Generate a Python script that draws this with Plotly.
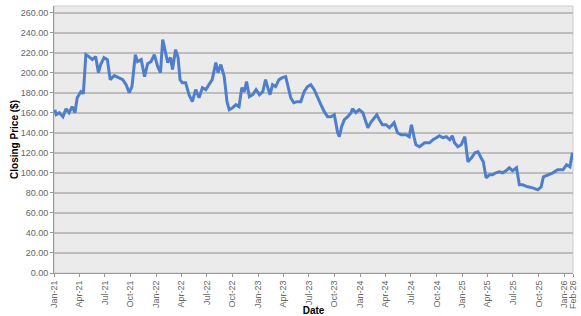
import plotly.graph_objects as go

dates = [
    "2021-01-04", "2021-01-09", "2021-01-20", "2021-02-02", "2021-02-13", "2021-02-24",
    "2021-03-07", "2021-03-17", "2021-03-25", "2021-04-07", "2021-04-16", "2021-04-25",
    "2021-05-06", "2021-05-18", "2021-05-30", "2021-06-09", "2021-06-17", "2021-06-29",
    "2021-07-11", "2021-07-21", "2021-08-05", "2021-08-23", "2021-09-04", "2021-09-16",
    "2021-09-27", "2021-10-07", "2021-10-19", "2021-10-27", "2021-11-09", "2021-11-21",
    "2021-12-02", "2021-12-14", "2021-12-26", "2022-01-07", "2022-01-17", "2022-01-25",
    "2022-02-03", "2022-02-12", "2022-02-22", "2022-03-01", "2022-03-12", "2022-03-21",
    "2022-03-28", "2022-04-05", "2022-04-17", "2022-04-29", "2022-05-11", "2022-05-23",
    "2022-06-04", "2022-06-16", "2022-06-28", "2022-07-10", "2022-07-21", "2022-08-03",
    "2022-08-11", "2022-08-21", "2022-09-02", "2022-09-12", "2022-09-20", "2022-10-02",
    "2022-10-14", "2022-10-25", "2022-11-04", "2022-11-13", "2022-11-21", "2022-12-01",
    "2022-12-13", "2022-12-25", "2023-01-06", "2023-01-18", "2023-01-28", "2023-02-05",
    "2023-02-13", "2023-02-22", "2023-03-05", "2023-03-17", "2023-03-29", "2023-04-10",
    "2023-04-19", "2023-04-28", "2023-05-09", "2023-05-21", "2023-06-03", "2023-06-15",
    "2023-06-27", "2023-07-09", "2023-07-21", "2023-08-02", "2023-08-14", "2023-08-26",
    "2023-09-07", "2023-09-19", "2023-10-01", "2023-10-13", "2023-10-19", "2023-10-27",
    "2023-11-06", "2023-11-18", "2023-11-30", "2023-12-05", "2023-12-17", "2023-12-29",
    "2024-01-11", "2024-01-17", "2024-01-29", "2024-02-10", "2024-02-22", "2024-03-01",
    "2024-03-10", "2024-03-21", "2024-04-03", "2024-04-15", "2024-05-02", "2024-05-14",
    "2024-05-27", "2024-06-14", "2024-06-25", "2024-07-03", "2024-07-13", "2024-07-19",
    "2024-08-01", "2024-08-19", "2024-09-06", "2024-09-18", "2024-09-30", "2024-10-11",
    "2024-10-23", "2024-11-05", "2024-11-17", "2024-11-26", "2024-12-04", "2024-12-16",
    "2024-12-28", "2025-01-10", "2025-01-21", "2025-02-03", "2025-02-15", "2025-02-26",
    "2025-03-09", "2025-03-17", "2025-03-27", "2025-04-08", "2025-04-19", "2025-05-01",
    "2025-05-13", "2025-05-25", "2025-06-06", "2025-06-18", "2025-06-30", "2025-07-14",
    "2025-07-24", "2025-08-05", "2025-08-23", "2025-09-10", "2025-09-28", "2025-10-10",
    "2025-10-18", "2025-11-03", "2025-11-21", "2025-12-08", "2025-12-27", "2026-01-09",
    "2026-01-21", "2026-01-30",
]

prices = [
    163, 158, 160, 156, 164, 160,
    166, 160, 175, 181, 179, 218,
    216, 213, 216, 200, 208, 215,
    213, 193, 197, 195, 193, 188,
    180, 186, 218, 211, 213, 196,
    209, 211, 218, 206, 200, 233,
    223, 210, 215, 203, 223, 215,
    193, 190, 190, 178, 171, 183,
    175, 185, 183, 188, 193, 210,
    200, 208, 196, 171, 163, 165,
    168, 166, 185, 181, 191, 176,
    178, 183, 178, 181, 193, 185,
    178, 188, 186, 193, 195, 196,
    185, 175, 170, 171, 171, 181,
    186, 188, 183, 175, 168, 161,
    156, 156, 158, 140, 136, 146,
    153, 156, 160, 164, 160, 163,
    160, 155, 145, 151, 156, 158,
    153, 148, 148, 145, 150, 140,
    138, 138, 136, 148, 135, 128,
    126, 130, 130, 133, 135, 137,
    135, 136, 133, 137, 130, 126,
    128, 136, 111, 115, 120, 121,
    115, 111, 95, 98, 98, 100,
    101, 100, 102, 105, 102, 105,
    88, 88, 86, 85, 83, 86,
    96, 98, 100, 103, 103, 108,
    106, 120,
]

tick_dates = [
    "2021-01-01", "2021-04-01", "2021-07-01", "2021-10-01",
    "2022-01-01", "2022-04-01", "2022-07-01", "2022-10-01",
    "2023-01-01", "2023-04-01", "2023-07-01", "2023-10-01",
    "2024-01-01", "2024-04-01", "2024-07-01", "2024-10-01",
    "2025-01-01", "2025-04-01", "2025-07-01", "2025-10-01",
    "2026-01-01", "2026-02-01",
]
tick_labels = [
    "Jan-21", "Apr-21", "Jul-21", "Oct-21",
    "Jan-22", "Apr-22", "Jul-22", "Oct-22",
    "Jan-23", "Apr-23", "Jul-23", "Oct-23",
    "Jan-24", "Apr-24", "Jul-24", "Oct-24",
    "Jan-25", "Apr-25", "Jul-25", "Oct-25",
    "Jan-26", "Feb-26",
]
y_ticks = list(range(0, 261, 20))
y_labels = [f"{v:.2f}" for v in y_ticks]

FONT = "Liberation Sans, Arial, sans-serif"

fig = go.Figure()
fig.add_trace(go.Scatter(
    x=dates, y=prices, mode="lines",
    line=dict(color="#4f7fcc", width=3),
    showlegend=False,
))

fig.update_layout(
    width=581, height=316,
    margin=dict(l=54, r=8, t=6, b=43),
    paper_bgcolor="white",
    plot_bgcolor="#ebebeb",
    font=dict(family=FONT, size=9, color="#666666"),
)
fig.update_xaxes(
    range=["2021-01-01", "2026-02-01"],
    tickmode="array", tickvals=tick_dates, ticktext=tick_labels,
    tickangle=-90, ticks="outside", ticklen=3, tickcolor="#999999",
    showgrid=False, showline=True, linecolor="#999999", linewidth=1,
    mirror=False, zeroline=False,
    tickfont=dict(family=FONT, size=9, color="#666666"),
    title=dict(text="<b>Date</b>", font=dict(family=FONT, size=10, color="#000000"), standoff=2),
    automargin=False,
)
fig.update_yaxes(
    range=[0, 266.5],
    tickmode="array", tickvals=y_ticks, ticktext=y_labels,
    ticks="outside", ticklen=3, tickcolor="#999999",
    showgrid=True, gridcolor="#bdbdbd", gridwidth=2,
    showline=True, linecolor="#999999", linewidth=1,
    zeroline=False,
    tickfont=dict(family=FONT, size=9, color="#666666"),
    title=dict(text="<b>Closing Price ($)</b>", font=dict(family=FONT, size=10, color="#000000"), standoff=0),
    automargin=False,
)
# light frame on top and right
fig.add_shape(type="rect", xref="paper", yref="paper", x0=0, y0=0, x1=1, y1=1,
              line=dict(color="#cccccc", width=1), layer="below")

fig.write_html("out.html")
